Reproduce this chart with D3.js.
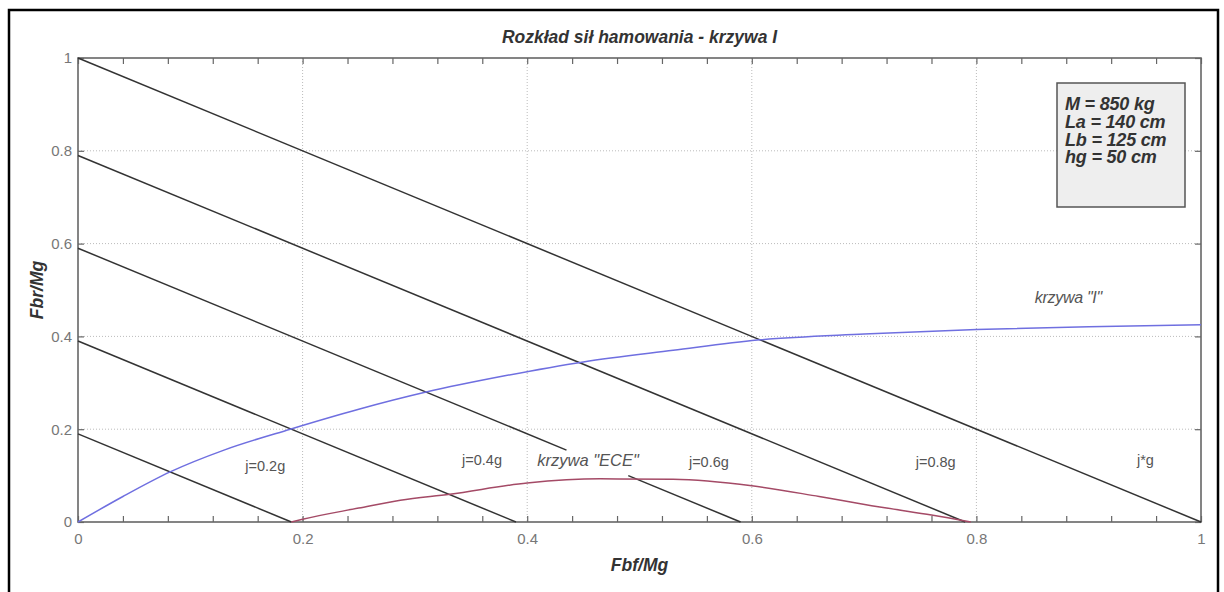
<!DOCTYPE html>
<html><head><meta charset="utf-8">
<script src="https://cdn.jsdelivr.net/npm/d3@7"></script>
<style>
html,body{margin:0;padding:0;background:#fff;}
svg{display:block;font-family:"Liberation Sans",Arial,sans-serif;}
</style></head>
<body><svg id="c" width="1224" height="592"></svg>
<script>
// ---- data ----
const xTicks = [0, 0.2, 0.4, 0.6, 0.8, 1];
const yTicks = [0, 0.2, 0.4, 0.6, 0.8, 1];
const xMinorTicks = [0,0.04,0.08,0.12,0.16,0.2,0.24,0.28,0.32,0.36,0.4,0.44,0.48,0.52,0.56,0.6,0.64,0.68,0.72,0.76,0.8,0.84,0.88,0.92,0.96,1];
const xTickLabels = ["0", "0.2", "0.4", "0.6", "0.8", "1"];
const yTickLabels = ["0", "0.2", "0.4", "0.6", "0.8", "1"];
// constant-deceleration lines Fbf + Fbr = j
const decelValues = [0.19, 0.39, 0.59, 0.79, 1.0];
const decelLabels = ["j=0.2g", "j=0.4g", "j=0.6g", "j=0.8g", "j*g"];
const gapDecel = 0.59, gapFrom = 0.435, gapTo = 0.49;
// ideal braking curve "I"
const curveIx = [0, 0.04, 0.082, 0.13, 0.189, 0.25, 0.31, 0.38, 0.45, 0.53, 0.605, 0.7, 0.8, 0.9, 1.0];
const curveIy = [0, 0.055, 0.108, 0.155, 0.2, 0.243, 0.28, 0.315, 0.345, 0.37, 0.392, 0.405, 0.415, 0.421, 0.425];
// ECE curve
const curveEx = [0.19, 0.2, 0.25, 0.287, 0.331, 0.4, 0.465, 0.53, 0.6, 0.66, 0.72, 0.76, 0.795];
const curveEy = [0, 0.006, 0.03, 0.047, 0.06, 0.084, 0.093, 0.092, 0.078, 0.055, 0.03, 0.015, 0];
const legendLines = ["M = 850 kg", "La = 140 cm", "Lb = 125 cm", "hg = 50 cm"];
const title = "Rozkład sił hamowania - krzywa I";

// ---- layout ----
const svg = d3.select("#c");
const L = 78, R = 1201, T = 58, B = 522;
const x = d3.scaleLinear().domain([0, 1]).range([L, R]);
const y = d3.scaleLinear().domain([0, 1]).range([B, T]);

// outer border
svg.append("rect").attr("x", 9).attr("y", 10).attr("width", 1209).attr("height", 600)
  .attr("fill", "none").attr("stroke", "#000").attr("stroke-width", 2.5);

// grid
const g = svg.append("g");
g.selectAll(".gx").data(xTicks.slice(1, -1)).enter().append("line")
  .attr("x1", d => x(d)).attr("x2", d => x(d)).attr("y1", T).attr("y2", B)
  .attr("stroke", "#bbb").attr("stroke-width", 1).attr("stroke-dasharray", "1,2");
g.selectAll(".gy").data(yTicks.slice(1, -1)).enter().append("line")
  .attr("x1", L).attr("x2", R).attr("y1", d => y(d)).attr("y2", d => y(d))
  .attr("stroke", "#bbb").attr("stroke-width", 1).attr("stroke-dasharray", "1,2");

// axes via d3 axis generators
const axStyle = sel => {
  sel.select(".domain").remove();
  sel.selectAll("line").attr("stroke", "#666").attr("stroke-width", 1.2);
  sel.selectAll("text").attr("fill", "#777").attr("font-size", 15);
};
svg.append("g").attr("transform", `translate(0,${B})`)
  .call(d3.axisBottom(x).tickValues(xMinorTicks).tickSize(-6).tickFormat(""))
  .call(axStyle);
svg.append("g").attr("transform", `translate(0,${B})`)
  .call(d3.axisBottom(x).tickValues(xTicks).tickSize(0).tickPadding(11)
    .tickFormat((d, i) => xTickLabels[i]))
  .call(axStyle);
svg.append("g").attr("transform", `translate(0,${T})`)
  .call(d3.axisTop(x).tickValues(xMinorTicks).tickSize(-6).tickFormat(""))
  .call(axStyle);
svg.append("g").attr("transform", `translate(${L},0)`)
  .call(d3.axisLeft(y).tickValues(yTicks).tickSize(-6).tickPadding(6)
    .tickFormat((d, i) => yTickLabels[i]))
  .call(axStyle);
svg.append("g").attr("transform", `translate(${R},0)`)
  .call(d3.axisRight(y).tickValues(yTicks).tickSize(-6).tickFormat(""))
  .call(axStyle);

// frame
svg.append("rect").attr("x", L).attr("y", T).attr("width", R - L).attr("height", B - T)
  .attr("fill", "none").attr("stroke", "#666").attr("stroke-width", 1.6);

// deceleration lines
const lineGen = d3.line().x(d => x(d[0])).y(d => y(d[1]));
decelValues.forEach(j => {
  let segs;
  if (j === gapDecel) segs = [[[0, j], [gapFrom, j - gapFrom]], [[gapTo, j - gapTo], [j, 0]]];
  else segs = [[[0, j], [j, 0]]];
  segs.forEach(s => svg.append("path").attr("d", lineGen(s))
    .attr("fill", "none").attr("stroke", "#333").attr("stroke-width", 1.5));
});

// curves
const smooth = d3.line().x(d => x(d[0])).y(d => y(d[1])).curve(d3.curveMonotoneX);
svg.append("path").attr("d", smooth(curveIx.map((v, i) => [v, curveIy[i]])))
  .attr("fill", "none").attr("stroke", "#6f6fe0").attr("stroke-width", 1.5);
svg.append("path").attr("d", smooth(curveEx.map((v, i) => [v, curveEy[i]])))
  .attr("fill", "none").attr("stroke", "#a44a66").attr("stroke-width", 1.5);

// line labels
const labelPos = [[0.149, 0.11], [0.342, 0.123], [0.544, 0.118], [0.746, 0.118], [0.943, 0.123]];
decelLabels.forEach((t, i) => svg.append("text")
  .attr("x", x(labelPos[i][0])).attr("y", y(labelPos[i][1]))
  .attr("font-size", 14.5).attr("fill", "#555").text(t));
svg.append("text").attr("x", x(0.409)).attr("y", y(0.12)).attr("font-size", 16.5)
  .attr("font-style", "italic").attr("fill", "#555").text('krzywa "ECE"');
svg.append("text").attr("x", x(0.852)).attr("y", y(0.472)).attr("font-size", 16)
  .attr("font-style", "italic").attr("fill", "#555").attr("letter-spacing", -0.3).text('krzywa "I"');

// legend box
svg.append("rect").attr("x", 1057).attr("y", 83).attr("width", 128).attr("height", 124)
  .attr("fill", "#eeeeee").attr("stroke", "#555").attr("stroke-width", 1.5);
legendLines.forEach((t, i) => svg.append("text").attr("x", 1065).attr("y", 110 + i * 17.8)
  .attr("font-size", 18).attr("font-weight", "bold").attr("font-style", "italic")
  .attr("fill", "#333").attr("letter-spacing", -0.2).text(t));

// title and axis labels
svg.append("text").attr("x", (L + R) / 2).attr("y", 43).attr("text-anchor", "middle")
  .attr("font-size", 17.5).attr("font-weight", "bold").attr("font-style", "italic")
  .attr("fill", "#333").text(title);
svg.append("text").attr("x", (L + R) / 2).attr("y", 571).attr("text-anchor", "middle")
  .attr("font-size", 17.5).attr("font-weight", "bold").attr("font-style", "italic")
  .attr("fill", "#333").text("Fbf/Mg");
svg.append("text").attr("transform", `translate(43,${(T + B) / 2}) rotate(-90)`)
  .attr("text-anchor", "middle")
  .attr("font-size", 17.5).attr("font-weight", "bold").attr("font-style", "italic")
  .attr("fill", "#333").text("Fbr/Mg");
</script></body></html>
